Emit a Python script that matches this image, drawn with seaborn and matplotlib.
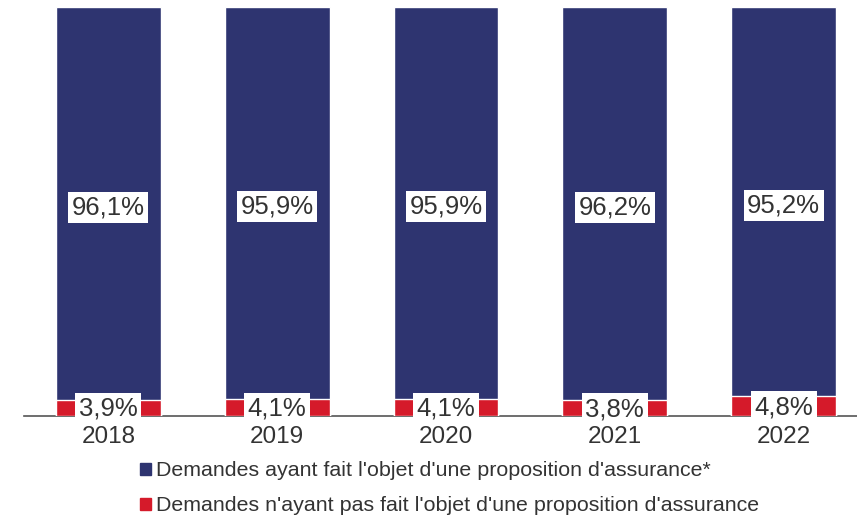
import numpy as np
import pandas as pd
import seaborn as sns
import matplotlib.pyplot as plt
from matplotlib.patches import Patch

years = ['2018', '2019', '2020', '2021', '2022']
avec_proposition = [96.1, 95.9, 95.9, 96.2, 95.2]
sans_proposition = [3.9, 4.1, 4.1, 3.8, 4.8]
labels = ["Demandes ayant fait l'objet d'une proposition d'assurance*",
          "Demandes n'ayant pas fait l'objet d'une proposition d'assurance"]

blue = '#2E3470'
red = '#D51A2A'
text_col = '#333333'

sns.set_style('white')
plt.rcParams['font.family'] = ['Liberation Sans', 'DejaVu Sans']

df = pd.DataFrame({'annee': years, 'avec': avec_proposition, 'sans': sans_proposition})
df['total'] = df['avec'] + df['sans']

fig = plt.figure(figsize=(8.57, 5.19), dpi=100)
ax = fig.add_axes([24 / 857, 103 / 519, 844 / 857, 409 / 519])

sns.barplot(data=df, x='annee', y='total', color=blue, saturation=1, width=0.62, ax=ax)
sns.barplot(data=df, x='annee', y='sans', color=red, saturation=1, width=0.62, ax=ax)

ax.set_xlim(-0.5, 4.5)
ax.set_ylim(0, 100)
ax.set_xlabel('')
ax.set_ylabel('')
ax.set_yticks([])
for s in ['top', 'right', 'left']:
    ax.spines[s].set_visible(False)
ax.spines['bottom'].set_color('#555555')
ax.spines['bottom'].set_linewidth(1.2)
ax.spines['bottom'].set_zorder(0.5)

ax.set_xticks(np.arange(-0.5, 5, 1), minor=True)
ax.tick_params(axis='x', which='minor', length=6, width=1.2, color='#555555', direction='out')
ax.tick_params(axis='x', which='major', length=0, labelsize=17.5, labelcolor=text_col, pad=7)

box = dict(boxstyle='square,pad=0.14', fc='white', ec='none')
for i, row in df.iterrows():
    a = f"{row['avec']:.1f}%".replace('.', ',')
    s = f"{row['sans']:.1f}%".replace('.', ',')
    ax.text(i, row['sans'] + row['avec'] / 2 - 0.9, a, ha='center', va='center',
            fontsize=18.5, color=text_col, bbox=box)
    ax.text(i, row['sans'] / 2 - 0.2, s, ha='center', va='center',
            fontsize=18.5, color=text_col, bbox=box)

handles = [Patch(color=blue), Patch(color=red)]
fig.legend(handles, labels, loc='upper left', bbox_to_anchor=(121 / 857, 1 - 442 / 519),
           frameon=False, fontsize=15.4, handlelength=0.5, handleheight=0.5,
           handletextpad=0.25, labelspacing=0.75, labelcolor=text_col)

fig.savefig('out.png', dpi=100)
